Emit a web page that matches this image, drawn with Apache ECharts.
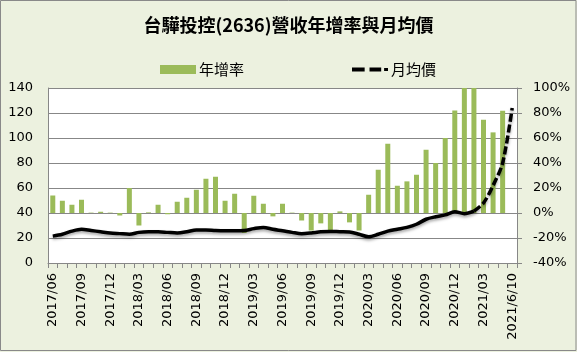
<!DOCTYPE html>
<html>
<head>
<meta charset="utf-8">
<script src="https://cdn.jsdelivr.net/npm/echarts@6/dist/echarts.min.js"></script>
<style>
  html, body { margin: 0; padding: 0; background: #ecf1df; }
  #chart { width: 577px; height: 352px; }
</style>
</head>
<body>
<div id="chart"></div>
<script>
// 月份（2017/06 ~ 2021/05，加上 2021/6/10）
const months = [
  '2017/06', '2017/07', '2017/08', '2017/09', '2017/10', '2017/11', '2017/12',
  '2018/01', '2018/02', '2018/03', '2018/04', '2018/05', '2018/06', '2018/07',
  '2018/08', '2018/09', '2018/10', '2018/11', '2018/12', '2019/01', '2019/02',
  '2019/03', '2019/04', '2019/05', '2019/06', '2019/07', '2019/08', '2019/09',
  '2019/10', '2019/11', '2019/12', '2020/01', '2020/02', '2020/03', '2020/04',
  '2020/05', '2020/06', '2020/07', '2020/08', '2020/09', '2020/10', '2020/11',
  '2020/12', '2021/01', '2021/02', '2021/03', '2021/04', '2021/05', '2021/6/10'
]

// 營收年增率 (%)
const yoy = [
  14, 9.8, 6.6, 10.6, 0.3, 1, 0.3, -2, 20, -10, 0.5, 6.6,
  -1, 9, 12.2, 18.6, 27.4, 29, 9.8, 15.4, -16, 13.8, 7.4, -2.7,
  7.4, 0.3, -6, -14, -8.3, -14, 1.3, -7.5, -14, 14.6, 34.6, 55.4,
  21.8, 25.3, 30.6, 50.6, 40, 60, 82, 100, 100, 74.6, 64.5, 81.8,
  null
]

// 月均價
const price = [
  21.5, 23, 25.5, 27, 26, 25, 24, 23.5, 23, 24.5, 25, 25,
  24.5, 24, 25, 26.5, 26.5, 26, 25.8, 25.8, 26, 27.5, 28.5, 27,
  25.8, 24.5, 23.4, 24, 25, 25.3, 25, 24.8, 23, 21, 23, 25.5,
  27, 28.5, 31, 35, 37, 38.5, 41, 39.5, 41.5, 48, 62, 80,
  124
]

const leftTicks = [0, 140, 20]
const rightTicks = [-40, 100, 20]

// 前段看起來是實線，最後幾段才看得出虛線
const dashFrom = 44
const priceSolid = price.map((v, i) => (i <= dashFrom ? v : null))
const priceDash = price.map((v, i) => (i >= dashFrom ? v : null))

const labelFont = { fontFamily: 'DejaVu Sans', fontSize: 13, color: '#000' }
const gridColor = '#878787'

const chart = echarts.init(document.getElementById('chart'))

chart.setOption({
  backgroundColor: '#ecf1df',
  animation: false,
  title: {
    text: '台驊投控(2636)營收年增率與月均價',
    left: 'center',
    top: 11,
    textStyle: {
      fontFamily: 'Noto Sans CJK TC',
      fontSize: 18,
      fontWeight: 'bold',
      color: '#000'
    }
  },
  legend: {
    left: 155,
    top: 57,
    itemGap: 108,
    itemWidth: 36,
    itemHeight: 9,
    textStyle: { fontFamily: 'Noto Sans CJK TC', fontSize: 15, color: '#000', padding: [0, 0, 0, -2] },
    data: [
      { name: '年增率', icon: 'rect' },
      { name: '月均價', icon: 'path://M0,0M37,9M0,2.5H13V6.5H0ZM18,2.5H30V6.5H18ZM33,3H37V6H33Z' }
    ]
  },
  grid: { left: 48, right: 60, top: 88, bottom: 89 },
  xAxis: {
    type: 'category',
    data: months,
    boundaryGap: true,
    axisLine: { lineStyle: { color: gridColor } },
    axisTick: { show: true, interval: 0, length: 5, lineStyle: { color: gridColor } },
    axisLabel: { ...labelFont, rotate: 90, interval: 2, margin: 10 },
    splitLine: { show: false }
  },
  yAxis: [
    {
      type: 'value',
      min: leftTicks[0],
      max: leftTicks[1],
      interval: leftTicks[2],
      axisLine: { show: true, lineStyle: { color: gridColor } },
      axisTick: { show: false },
      axisLabel: { ...labelFont, margin: 15 },
      splitLine: { lineStyle: { color: gridColor, width: 1 } }
    },
    {
      type: 'value',
      min: rightTicks[0],
      max: rightTicks[1],
      interval: rightTicks[2],
      axisLine: { show: true, lineStyle: { color: gridColor } },
      axisTick: { show: true, length: 5, lineStyle: { color: gridColor } },
      axisLabel: { ...labelFont, margin: 16, formatter: '{value}%' },
      splitLine: { show: false }
    }
  ],
  series: [
    {
      name: '年增率',
      type: 'bar',
      yAxisIndex: 1,
      data: yoy,
      barWidth: 5,
      itemStyle: { color: '#9bbb59' }
    },
    {
      name: '月均價',
      type: 'line',
      yAxisIndex: 0,
      data: priceSolid,
      smooth: 0.3,
      symbol: 'none',
      itemStyle: { color: '#000' },
      lineStyle: {
        color: '#000', width: 3.5,
        shadowColor: 'rgba(0,0,0,0.35)', shadowBlur: 3, shadowOffsetY: 2
      }
    },
    {
      name: '月均價',
      type: 'line',
      yAxisIndex: 0,
      data: priceDash,
      smooth: 0.3,
      symbol: 'none',
      itemStyle: { color: '#000' },
      lineStyle: {
        color: '#000', width: 3.5, type: [8, 3],
        shadowColor: 'rgba(0,0,0,0.35)', shadowBlur: 3, shadowOffsetY: 2
      }
    }
  ],
  graphic: [
    {
      type: 'rect',
      shape: { x: 0.5, y: 0.5, width: 575.5, height: 350 },
      style: { fill: null, stroke: '#898989', lineWidth: 1 },
      silent: true
    },
    {
      type: 'rect',
      z: -10,
      shape: { x: 48, y: 88, width: 469, height: 175 },
      style: { fill: '#fff' },
      silent: true
    }
  ]
})
</script>
</body>
</html>
